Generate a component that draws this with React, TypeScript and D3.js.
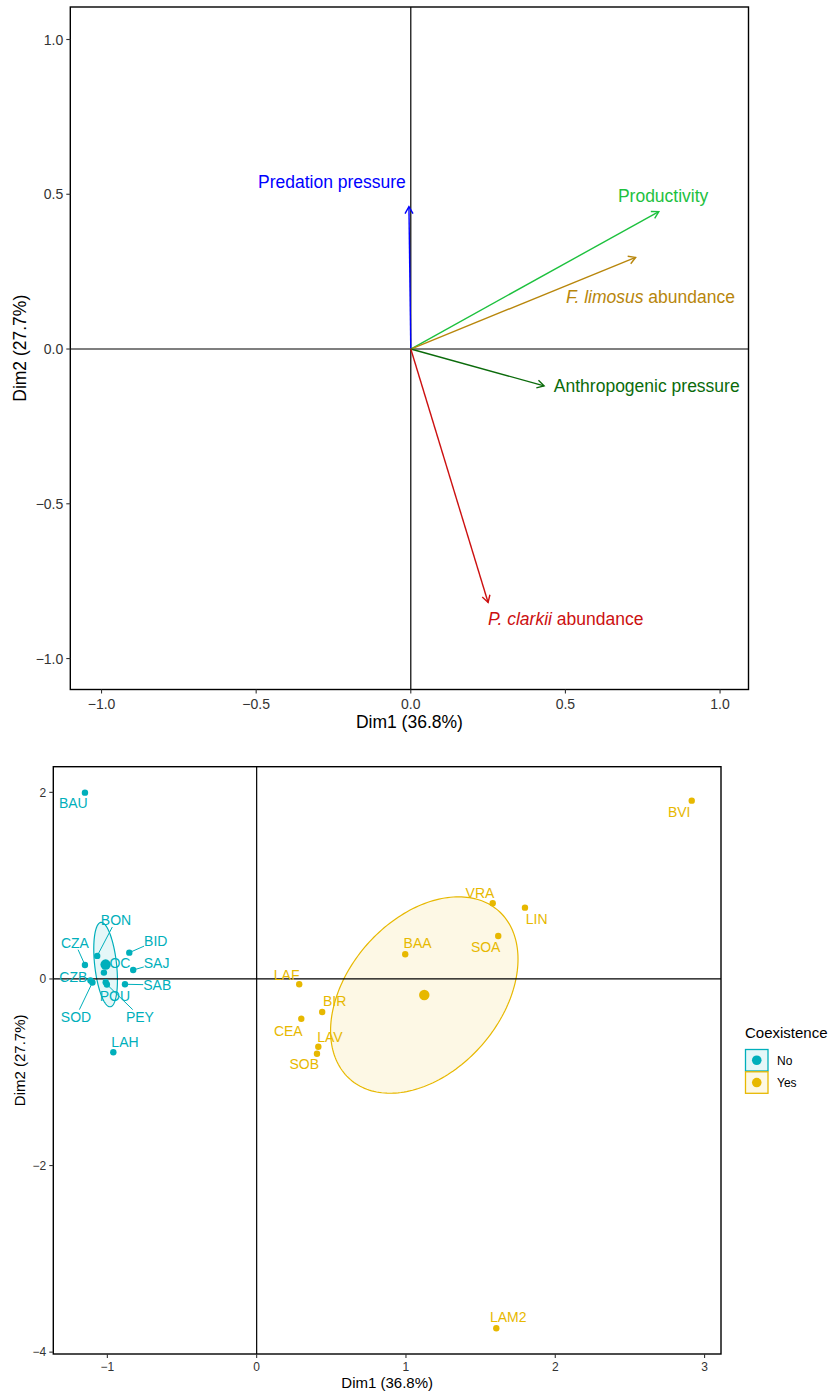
import React from "react";
import * as d3 from "d3";

// ---------- Variables (correlation circle) ----------
const VAR_NAMES = ["Predation pressure", "Productivity", "F. limosus abundance", "Anthropogenic pressure", "P. clarkii abundance"];
const VAR_ITALIC = ["", "", "F. limosus", "", "P. clarkii"];
const VAR_DIM1 = [-0.006, 0.802, 0.727, 0.431, 0.25];
const VAR_DIM2 = [0.46, 0.444, 0.296, -0.119, -0.819];
const VAR_LABEL_DIM1 = [-0.255, 0.816, 0.775, 0.763, 0.501];
const VAR_LABEL_DIM2 = [0.54, 0.494, 0.168, -0.12, -0.872];
const VAR_COLORS = ["#0000FF", "#1DC13E", "#B8860B", "#0B6B0B", "#CC1010"];
const TOP_TICKS = [-1, -0.5, 0, 0.5, 1];

// ---------- Individuals ----------
const SITE_NAMES = ["BAU", "BON", "CZA", "OC", "CZB", "SOD", "POU", "PEY", "BID", "SAJ", "SAB", "LAH",
  "VRA", "LIN", "BAA", "SOA", "LAF", "BIR", "CEA", "LAV", "SOB", "BVI", "LAM2"];
const SITE_GROUP = ["No", "No", "No", "No", "No", "No", "No", "No", "No", "No", "No", "No",
  "Yes", "Yes", "Yes", "Yes", "Yes", "Yes", "Yes", "Yes", "Yes", "Yes", "Yes"];
const SITE_DIM1 = [-1.150, -1.068, -1.150, -1.023, -1.113, -1.100, -1.011, -1.003, -0.853, -0.827, -0.882, -0.960,
  1.581, 1.797, 0.995, 1.618, 0.285, 0.439, 0.299, 0.413, 0.404, 2.914, 1.605];
const SITE_DIM2 = [1.997, 0.247, 0.150, 0.068, -0.016, -0.038, -0.035, -0.059, 0.282, 0.096, -0.057, -0.786,
  0.811, 0.764, 0.265, 0.461, -0.057, -0.354, -0.426, -0.726, -0.801, 1.911, -3.744];
const LABEL_DIM1 = [-1.228, -0.942, -1.217, -0.916, -1.228, -1.210, -0.949, -0.782, -0.676, -0.670, -0.666, -0.882,
  1.496, 1.875, 1.078, 1.534, 0.201, 0.522, 0.212, 0.491, 0.319, 2.830, 1.685];
const LABEL_DIM2 = [1.890, 0.632, 0.389, 0.168, 0.018, -0.404, -0.182, -0.404, 0.407, 0.168, -0.064, -0.672,
  0.925, 0.643, 0.389, 0.346, 0.043, -0.236, -0.554, -0.618, -0.911, 1.787, -3.626];
const GROUPS = ["No", "Yes"];
const GROUP_COLORS = ["#00AFBB", "#E7B800"];
const BOT_X_TICKS = [-1, 0, 1, 2, 3];
const BOT_Y_TICKS = [2, 0, -2, -4];
const CHI2_95_2DF = 5.991;

const FONT = "'Liberation Sans', Arial, Helvetica, sans-serif";

let measureCtx: CanvasRenderingContext2D | null = null;
function textWidth(s: string, size: number) {
  if (!measureCtx) {
    const c = document.createElement("canvas");
    measureCtx = c.getContext("2d");
  }
  if (!measureCtx) return s.length * size * 0.6;
  measureCtx.font = `${size}px 'Liberation Sans'`;
  return measureCtx.measureText(s).width;
}

function TopChart() {
  const T = { left: 70.3, right: 748.5, top: 7, bottom: 689.5 };
  const x = d3.scaleLinear().domain([-1.101, 1.092]).range([T.left, T.right]);
  const y = d3.scaleLinear().domain([-1.1, 1.105]).range([T.bottom, T.top]);
  const fmt = d3.format(".1f");
  const ox = x(0), oy = y(0);
  const head = 8;
  return (
    <g>
      <line x1={x(0)} x2={x(0)} y1={T.top} y2={T.bottom} stroke="#000" strokeWidth={1.2} />
      <line x1={T.left} x2={T.right} y1={y(0)} y2={y(0)} stroke="#000" strokeWidth={1.2} />
      {VAR_NAMES.map((name, i) => {
        const ex = x(VAR_DIM1[i]), ey = y(VAR_DIM2[i]);
        const ang = Math.atan2(ey - oy, ex - ox);
        const a1 = ang + Math.PI / 6, a2 = ang - Math.PI / 6;
        const h = `M${ex - head * Math.cos(a1)},${ey - head * Math.sin(a1)}L${ex},${ey}L${ex - head * Math.cos(a2)},${ey - head * Math.sin(a2)}`;
        const it = VAR_ITALIC[i];
        const rest = it ? name.slice(it.length) : name;
        return (
          <g key={name}>
            <line x1={ox} y1={oy} x2={ex} y2={ey} stroke={VAR_COLORS[i]} strokeWidth={1.4} />
            <path d={h} fill="none" stroke={VAR_COLORS[i]} strokeWidth={1.4} />
            <text x={x(VAR_LABEL_DIM1[i])} y={y(VAR_LABEL_DIM2[i])} dy="0.36em" textAnchor="middle"
              fill={VAR_COLORS[i]} fontSize={17.5} fontFamily={FONT}>
              {it ? <tspan fontStyle="italic">{it}</tspan> : null}
              <tspan>{rest}</tspan>
            </text>
          </g>
        );
      })}
      <rect x={T.left} y={T.top} width={T.right - T.left} height={T.bottom - T.top} fill="none" stroke="#000" strokeWidth={1.4} />
      {TOP_TICKS.map((t) => (
        <g key={"x" + t}>
          <line x1={x(t)} x2={x(t)} y1={T.bottom} y2={T.bottom + 4} stroke="#333" strokeWidth={1.1} />
          <text x={x(t)} y={T.bottom + 14} dy="0.36em" textAnchor="middle" fontSize={14} fill="#333" fontFamily={FONT}>{fmt(t)}</text>
        </g>
      ))}
      {TOP_TICKS.map((t) => (
        <g key={"y" + t}>
          <line x1={T.left - 4} x2={T.left} y1={y(t)} y2={y(t)} stroke="#333" strokeWidth={1.1} />
          <text x={T.left - 7} y={y(t)} dy="0.36em" textAnchor="end" fontSize={14} fill="#333" fontFamily={FONT}>{fmt(t)}</text>
        </g>
      ))}
      <text x={(T.left + T.right) / 2} y={722} dy="0.36em" textAnchor="middle" fontSize={17.5} fontFamily={FONT} fill="#000">Dim1 (36.8%)</text>
      <text transform={`translate(20,${(T.top + T.bottom) / 2}) rotate(-90)`} dy="0.36em" textAnchor="middle" fontSize={17.5} fontFamily={FONT} fill="#000">Dim2 (27.7%)</text>
    </g>
  );
}

function ellipsePath(xs: number[], ys: number[], sx: d3.ScaleLinear<number, number>, sy: d3.ScaleLinear<number, number>) {
  const n = xs.length;
  const mx = d3.mean(xs) as number, my = d3.mean(ys) as number;
  let vxx = 0, vyy = 0, vxy = 0;
  for (let i = 0; i < n; i++) {
    vxx += (xs[i] - mx) ** 2;
    vyy += (ys[i] - my) ** 2;
    vxy += (xs[i] - mx) * (ys[i] - my);
  }
  const f = CHI2_95_2DF / ((n - 1) * n);
  vxx *= f; vyy *= f; vxy *= f;
  const l11 = Math.sqrt(vxx), l21 = vxy / l11, l22 = Math.sqrt(vyy - l21 * l21);
  const pts: [number, number][] = d3.range(0, 201).map((k) => {
    const t = (k / 200) * 2 * Math.PI;
    const c = Math.cos(t), s = Math.sin(t);
    return [sx(mx + l11 * c), sy(my + l21 * c + l22 * s)];
  });
  return { d: (d3.line()(pts) as string) + "Z", mx, my };
}

function BottomChart() {
  const B = { left: 53.3, right: 721, top: 766.7, bottom: 1354 };
  const x = d3.scaleLinear().domain([-1.362, 3.11]).range([B.left, B.right]);
  const y = d3.scaleLinear().domain([-4.02, 2.275]).range([B.bottom, B.top]);
  const fs = 14;
  const groupData = GROUPS.map((g, gi) => {
    const idx = SITE_NAMES.map((_, i) => i).filter((i) => SITE_GROUP[i] === g);
    const e = ellipsePath(idx.map((i) => SITE_DIM1[i]), idx.map((i) => SITE_DIM2[i]), x, y);
    return { g, color: GROUP_COLORS[gi], ...e };
  });
  const colorOf = (g: string) => GROUP_COLORS[GROUPS.indexOf(g)];

  const labels = SITE_NAMES.map((name, i) => {
    const px = x(SITE_DIM1[i]), py = y(SITE_DIM2[i]);
    const lx = x(LABEL_DIM1[i]), ly = y(LABEL_DIM2[i]);
    const hw = textWidth(name, fs) / 2, hh = fs * 0.5;
    const dx = lx - px, dy = ly - py;
    let tHit = 1;
    if (dx !== 0) {
      const tx1 = (dx > 0 ? lx - hw - px : lx + hw - px) / dx;
      if (tx1 >= 0 && tx1 <= 1) {
        const yy = py + tx1 * dy;
        if (Math.abs(yy - ly) <= hh) tHit = Math.min(tHit, tx1);
      }
    }
    if (dy !== 0) {
      const ty1 = (dy > 0 ? ly - hh - py : ly + hh - py) / dy;
      if (ty1 >= 0 && ty1 <= 1) {
        const xx = px + ty1 * dx;
        if (Math.abs(xx - lx) <= hw) tHit = Math.min(tHit, ty1);
      }
    }
    const inside = Math.abs(px - lx) <= hw && Math.abs(py - ly) <= hh;
    const len = inside ? 0 : tHit * Math.hypot(dx, dy);
    const seg = len > 9 ? { x2: px + tHit * dx, y2: py + tHit * dy } : null;
    return { name, px, py, lx, ly, seg, color: colorOf(SITE_GROUP[i]) };
  });

  return (
    <g>
      {groupData.map((gd) => (
        <path key={"e" + gd.g} d={gd.d} fill={gd.color} fillOpacity={0.1} stroke={gd.color} strokeWidth={1.2} />
      ))}
      <line x1={x(0)} x2={x(0)} y1={B.top} y2={B.bottom} stroke="#000" strokeWidth={1.2} />
      <line x1={B.left} x2={B.right} y1={y(0)} y2={y(0)} stroke="#000" strokeWidth={1.2} />
      {labels.map((l) => l.seg ? (
        <line key={"s" + l.name} x1={l.px} y1={l.py} x2={l.seg.x2} y2={l.seg.y2} stroke={l.color} strokeWidth={1} />
      ) : null)}
      {labels.map((l) => (
        <text key={"t" + l.name} x={l.lx} y={l.ly} dy="0.36em" textAnchor="middle" fontSize={fs} fill={l.color} fontFamily={FONT}>{l.name}</text>
      ))}
      {labels.map((l) => (
        <circle key={"p" + l.name} cx={l.px} cy={l.py} r={3.2} fill={l.color} />
      ))}
      {groupData.map((gd) => (
        <circle key={"m" + gd.g} cx={x(gd.mx)} cy={y(gd.my)} r={5.2} fill={gd.color} />
      ))}
      <rect x={B.left} y={B.top} width={B.right - B.left} height={B.bottom - B.top} fill="none" stroke="#000" strokeWidth={1.4} />
      {BOT_X_TICKS.map((t) => (
        <g key={"x" + t}>
          <line x1={x(t)} x2={x(t)} y1={B.bottom} y2={B.bottom + 4} stroke="#333" strokeWidth={1.1} />
          <text x={x(t)} y={B.bottom + 13} dy="0.36em" textAnchor="middle" fontSize={12} fill="#333" fontFamily={FONT}>{d3.format("d")(t)}</text>
        </g>
      ))}
      {BOT_Y_TICKS.map((t) => (
        <g key={"y" + t}>
          <line x1={B.left - 4} x2={B.left} y1={y(t)} y2={y(t)} stroke="#333" strokeWidth={1.1} />
          <text x={B.left - 7} y={y(t)} dy="0.36em" textAnchor="end" fontSize={12} fill="#333" fontFamily={FONT}>{d3.format("d")(t)}</text>
        </g>
      ))}
      <text x={(B.left + B.right) / 2} y={1383} dy="0.36em" textAnchor="middle" fontSize={15} fontFamily={FONT} fill="#000">Dim1 (36.8%)</text>
      <text transform={`translate(20,${(B.top + B.bottom) / 2}) rotate(-90)`} dy="0.36em" textAnchor="middle" fontSize={15} fontFamily={FONT} fill="#000">Dim2 (27.7%)</text>
      {/* Legend */}
      <text x={745} y={1033} dy="0.36em" fontSize={15} fontFamily={FONT} fill="#000">Coexistence</text>
      {GROUPS.map((g, i) => (
        <g key={"lg" + g} transform={`translate(745.5,${1049.5 + i * 22.3})`}>
          <rect x={0} y={0} width={22.5} height={21.5} fill={GROUP_COLORS[i]} fillOpacity={0.1} stroke={GROUP_COLORS[i]} strokeWidth={1.3} />
          <circle cx={11.25} cy={10.75} r={4.8} fill={GROUP_COLORS[i]} />
          <text x={31.5} y={10.75} dy="0.36em" fontSize={12} fontFamily={FONT} fill="#000">{g}</text>
        </g>
      ))}
    </g>
  );
}

export default function App() {
  return (
    <svg width={829} height={1394} viewBox="0 0 829 1394"
      style={{ position: "absolute", left: 0, top: 0, background: "#fff" }}>
      <rect x={0} y={0} width={829} height={1394} fill="#fff" />
      <TopChart />
      <BottomChart />
    </svg>
  );
}
